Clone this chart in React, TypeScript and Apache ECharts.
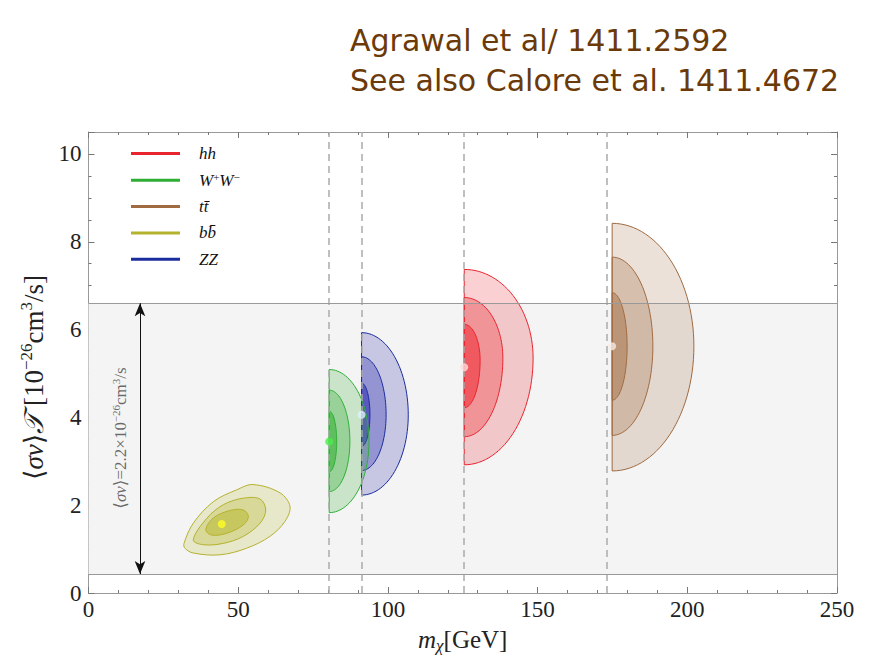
import React, { useEffect, useRef } from "react";
import * as echarts from "echarts";

const titleLines = ["Agrawal et al/ 1411.2592", "See also Calore et al. 1411.4672"];

const channelNames = ["hh", "WW", "tt", "bb", "ZZ"];
const channelLabels = ["{i|hh}", "{i|W}{sup|+}{i|W}{sup|−}", "{i|tt̄}", "{i|bb̄}", "{i|ZZ}"];
const lineColors = ["#e8252f", "#2fae36", "#a06b40", "#b5b22e", "#1b2c9e"];
const fillRGB = [
  [238, 40, 50],
  [50, 175, 50],
  [170, 120, 80],
  [185, 185, 50],
  [40, 40, 175],
];
const levelAlpha = [0.22, 0.32, 0.55];

const xRange = [0, 250];
const xStep = 50;
const yRange = [0, 10.5];
const yStep = 2;

const thresholds = [80.4, 91.2, 125.5, 173.2];
const bandLimits = [0.43, 6.6];
const arrowX = 17.2;
const arrowLabelPos = [10.75, 3.53];

// half-ellipse contours: [x0, y0, xRight, yTop, yBottom]  (outer, middle, inner)
const hhContours = [
  [125.5, 5.35, 148.5, 7.37, 2.92],
  [125.5, 5.35, 138.4, 6.73, 3.56],
  [125.5, 5.3, 130.8, 6.12, 4.22],
];
const wwContours = [
  [80.4, 3.45, 93.7, 5.09, 1.83],
  [80.4, 3.45, 87.3, 4.62, 2.31],
  [80.4, 3.45, 82.9, 4.14, 2.76],
];
const ttContours = [
  [174.9, 5.62, 202.2, 8.42, 2.78],
  [174.9, 5.62, 188.5, 7.65, 3.59],
  [174.9, 5.62, 179.9, 6.84, 4.39],
];
const zzContours = [
  [91.2, 4.06, 106.8, 5.93, 2.23],
  [91.2, 4.06, 99.4, 5.38, 2.79],
  [91.2, 4.06, 94.0, 4.78, 3.34],
];
// b bbar contours as outlines (x, y)
const bbOuter = [
  [31.9, 1.13], [35.0, 1.59], [41.7, 2.08], [49.5, 2.35], [55.0, 2.47], [64.0, 2.28],
  [67.3, 1.97], [65.6, 1.63], [60.6, 1.29], [52.8, 1.02], [43.9, 0.87], [35.0, 0.91], [32.2, 1.02],
];
const bbMiddle = [
  [35.0, 1.21], [39.5, 1.7], [45.0, 2.01], [51.7, 2.16], [57.3, 2.14],
  [59.2, 1.89], [57.3, 1.59], [51.7, 1.29], [45.0, 1.13], [38.3, 1.1],
];
const bbInner = [
  [39.2, 1.44], [41.7, 1.71], [47.3, 1.88], [51.7, 1.89],
  [53.4, 1.74], [51.7, 1.55], [46.2, 1.36], [41.1, 1.32],
];
const bbContours = [bbOuter, bbMiddle, bbInner];

// best-fit points: [x, y, colour]
const bestFit: [number, number, string][] = [
  [44.5, 1.57, "#ffff22"],
  [80.4, 3.45, "#4cee4c"],
  [91.2, 4.06, "#def3fa"],
  [125.5, 5.14, "#fddcdc"],
  [174.9, 5.62, "#f7ebe6"],
];

const serif = "Liberation Serif, DejaVu Serif, serif";

function rgba(idx: number, level: number) {
  const c = fillRGB[idx];
  return `rgba(${c[0]},${c[1]},${c[2]},${levelAlpha[level]})`;
}

function halfEllipsePoints(c: number[]) {
  const pts: number[][] = [];
  const n = 60;
  for (let i = 0; i <= n; i++) {
    const t = -Math.PI / 2 + (Math.PI * i) / n;
    const x = c[0] + (c[2] - c[0]) * Math.cos(t);
    const y = t >= 0 ? c[1] + (c[3] - c[1]) * Math.sin(t) : c[1] + (c[1] - c[4]) * Math.sin(t);
    pts.push([x, y]);
  }
  return pts;
}

function halfEllipseSeries(idx: number, contours: number[][]) {
  return {
    type: "custom",
    name: channelNames[idx],
    z: 2,
    silent: true,
    itemStyle: { color: lineColors[idx] },
    data: contours.map((c) => [c[0], c[1]]),
    renderItem: (params: any, api: any) => {
      const c = contours[params.dataIndex];
      const points = halfEllipsePoints(c).map((p) => api.coord(p));
      return {
        type: "polygon",
        shape: { points },
        style: { fill: rgba(idx, params.dataIndex), stroke: lineColors[idx], lineWidth: 1 },
      };
    },
  };
}

function outlineSeries(idx: number, contours: number[][][]) {
  return {
    type: "custom",
    name: channelNames[idx],
    z: 2,
    silent: true,
    itemStyle: { color: lineColors[idx] },
    data: contours.map((c) => c[0]),
    renderItem: (params: any, api: any) => {
      const c = contours[params.dataIndex];
      const points = c.map((p) => api.coord(p));
      return {
        type: "polygon",
        shape: { points, smooth: 0.35 },
        style: { fill: rgba(idx, params.dataIndex), stroke: lineColors[idx], lineWidth: 1 },
      };
    },
  };
}

export default function App() {
  const ref = useRef<HTMLDivElement>(null);
  useEffect(() => {
    if (!ref.current) return;
    const chart = echarts.init(ref.current, undefined, { renderer: "svg" });
    const axisLineStyle = { color: "#999", width: 1 };
    const tickStyle = { color: "#777", width: 1 };
    const option: any = {
      animation: false,
      backgroundColor: "#ffffff",
      title: {
        text: titleLines.join("\n"),
        left: 345,
        top: 15,
        textStyle: {
          fontFamily: "DejaVu Sans, sans-serif",
          fontWeight: "normal",
          fontSize: 30,
          lineHeight: 40,
          color: "#6b3a08",
        },
      },
      legend: {
        orient: "vertical",
        left: 131,
        top: 145,
        padding: 0,
        itemWidth: 49,
        itemHeight: 3,
        itemGap: 9.3,
        icon: "rect",
        selectedMode: false,
        data: channelNames.map((n, i) => ({ name: n, itemStyle: { color: lineColors[i] } })),
        formatter: (name: string) => channelLabels[channelNames.indexOf(name)],
        textStyle: {
          padding: [0, 0, 0, 14],
          fontFamily: serif,
          fontSize: 17,
          color: "#111",
          rich: {
            i: { fontStyle: "italic", fontFamily: serif, fontSize: 17, lineHeight: 18, color: "#111" },
            sup: { fontFamily: serif, fontSize: 11, lineHeight: 11, verticalAlign: "top", color: "#111" },
          },
        },
      },
      grid: { left: 88.5, right: 52, top: 132, bottom: 68 },
      xAxis: [
        {
          type: "value",
          min: xRange[0],
          max: xRange[1],
          interval: xStep,
          position: "bottom",
          axisLine: { show: true, onZero: false, lineStyle: axisLineStyle },
          axisTick: { show: true, inside: true, length: 6, lineStyle: tickStyle },
          minorTick: { show: true, splitNumber: 5, length: 3, lineStyle: tickStyle },
          splitLine: { show: false },
          axisLabel: { fontFamily: serif, fontSize: 23, color: "#222", margin: 5 },
          name: "{i|m}{sub|χ}{n|[GeV]}",
          nameLocation: "middle",
          nameGap: 31,
          nameTextStyle: {
            fontFamily: serif,
            fontSize: 25,
            color: "#222",
            rich: {
              i: { fontStyle: "italic", fontFamily: serif, fontSize: 25, lineHeight: 30, color: "#222" },
              n: { fontFamily: serif, fontSize: 25, lineHeight: 30, color: "#222" },
              sub: { fontStyle: "italic", fontFamily: serif, fontSize: 17, lineHeight: 16, verticalAlign: "bottom", color: "#222" },
            },
          },
        },
        {
          type: "value",
          min: xRange[0],
          max: xRange[1],
          interval: xStep,
          position: "top",
          axisLine: { show: true, onZero: false, lineStyle: axisLineStyle },
          axisTick: { show: true, inside: true, length: 6, lineStyle: tickStyle },
          minorTick: { show: true, splitNumber: 5, length: 3, lineStyle: tickStyle },
          splitLine: { show: false },
          axisLabel: { show: false },
        },
      ],
      yAxis: [
        {
          type: "value",
          min: yRange[0],
          max: yRange[1],
          interval: yStep,
          position: "left",
          axisLine: { show: true, onZero: false, lineStyle: axisLineStyle },
          axisTick: { show: true, inside: true, length: 6, lineStyle: tickStyle },
          minorTick: { show: true, splitNumber: 4, length: 3, lineStyle: tickStyle },
          splitLine: { show: false },
          axisLabel: { fontFamily: serif, fontSize: 23, color: "#222", margin: 7, showMaxLabel: false },
          name: "⟨{i|σv}⟩{T|𝒯} [10{sup|−26}cm{sup|3}/s]",
          nameLocation: "middle",
          nameGap: 37,
          nameTextStyle: {
            fontFamily: serif,
            fontSize: 27,
            color: "#222",
            padding: [0, 30, 0, 0],
            rich: {
              i: { fontStyle: "italic", fontFamily: serif, fontSize: 27, lineHeight: 32, color: "#222" },
              T: { fontStyle: "italic", fontFamily: serif, fontSize: 27, lineHeight: 32, color: "#222" },
              sup: { fontFamily: serif, fontSize: 17, lineHeight: 16, verticalAlign: "top", color: "#222" },
            },
          },
        },
        {
          type: "value",
          min: yRange[0],
          max: yRange[1],
          interval: yStep,
          position: "right",
          axisLine: { show: true, onZero: false, lineStyle: axisLineStyle },
          axisTick: { show: true, inside: true, length: 6, lineStyle: tickStyle },
          minorTick: { show: true, splitNumber: 4, length: 3, lineStyle: tickStyle },
          splitLine: { show: false },
          axisLabel: { show: false },
        },
      ],
      series: [
        {
          type: "line",
          name: "band",
          data: [],
          z: 1,
          silent: true,
          markArea: {
            silent: true,
            itemStyle: { color: "#f4f4f4" },
            data: [[{ yAxis: bandLimits[0] }, { yAxis: bandLimits[1] }]],
          },
        },
        outlineSeries(3, bbContours),
        halfEllipseSeries(4, zzContours),
        halfEllipseSeries(1, wwContours),
        halfEllipseSeries(0, hhContours),
        halfEllipseSeries(2, ttContours),
        {
          type: "line",
          name: "guides",
          data: [],
          z: 3,
          silent: true,
          markLine: {
            silent: true,
            symbol: ["none", "none"],
            label: { show: false },
            data: [
              ...thresholds.map((x) => ({ xAxis: x, lineStyle: { type: [7, 5], color: "#aaa", width: 1.5 } })),
              ...bandLimits.map((y) => ({ yAxis: y, lineStyle: { type: "solid", color: "#999", width: 1.2 } })),
            ],
          },
        },
        {
          type: "line",
          name: "arrow",
          data: [],
          z: 3,
          silent: true,
          markLine: {
            silent: true,
            symbol: ["arrow", "arrow"],
            symbolSize: [8, 13],
            label: { show: false },
            lineStyle: { type: "solid", color: "#111", width: 1 },
            data: [[{ coord: [arrowX, bandLimits[0]] }, { coord: [arrowX, bandLimits[1]] }]],
          },
        },
        {
          type: "scatter",
          name: "arrowLabel",
          z: 4,
          silent: true,
          symbolSize: 0,
          data: [arrowLabelPos],
          label: {
            show: true,
            position: "inside",
            rotate: 90,
            formatter: "⟨{i|σv}⟩=2.2×10{sup|−26}cm{sup|3}/s",
            fontFamily: serif,
            fontSize: 17,
            color: "#444",
            rich: {
              i: { fontStyle: "italic", fontFamily: serif, fontSize: 17, lineHeight: 20, color: "#444" },
              sup: { fontFamily: serif, fontSize: 11, lineHeight: 10, verticalAlign: "top", color: "#444" },
            },
          },
        },
        {
          type: "scatter",
          name: "bestFit",
          z: 5,
          silent: true,
          symbol: "circle",
          symbolSize: 8,
          data: bestFit.map((p) => ({ value: [p[0], p[1]], itemStyle: { color: p[2] } })),
        },
      ],
    };
    chart.setOption(option);
    return () => chart.dispose();
  }, []);
  return <div ref={ref} style={{ position: "fixed", left: 0, top: 0, width: 889, height: 661 }} />;
}
